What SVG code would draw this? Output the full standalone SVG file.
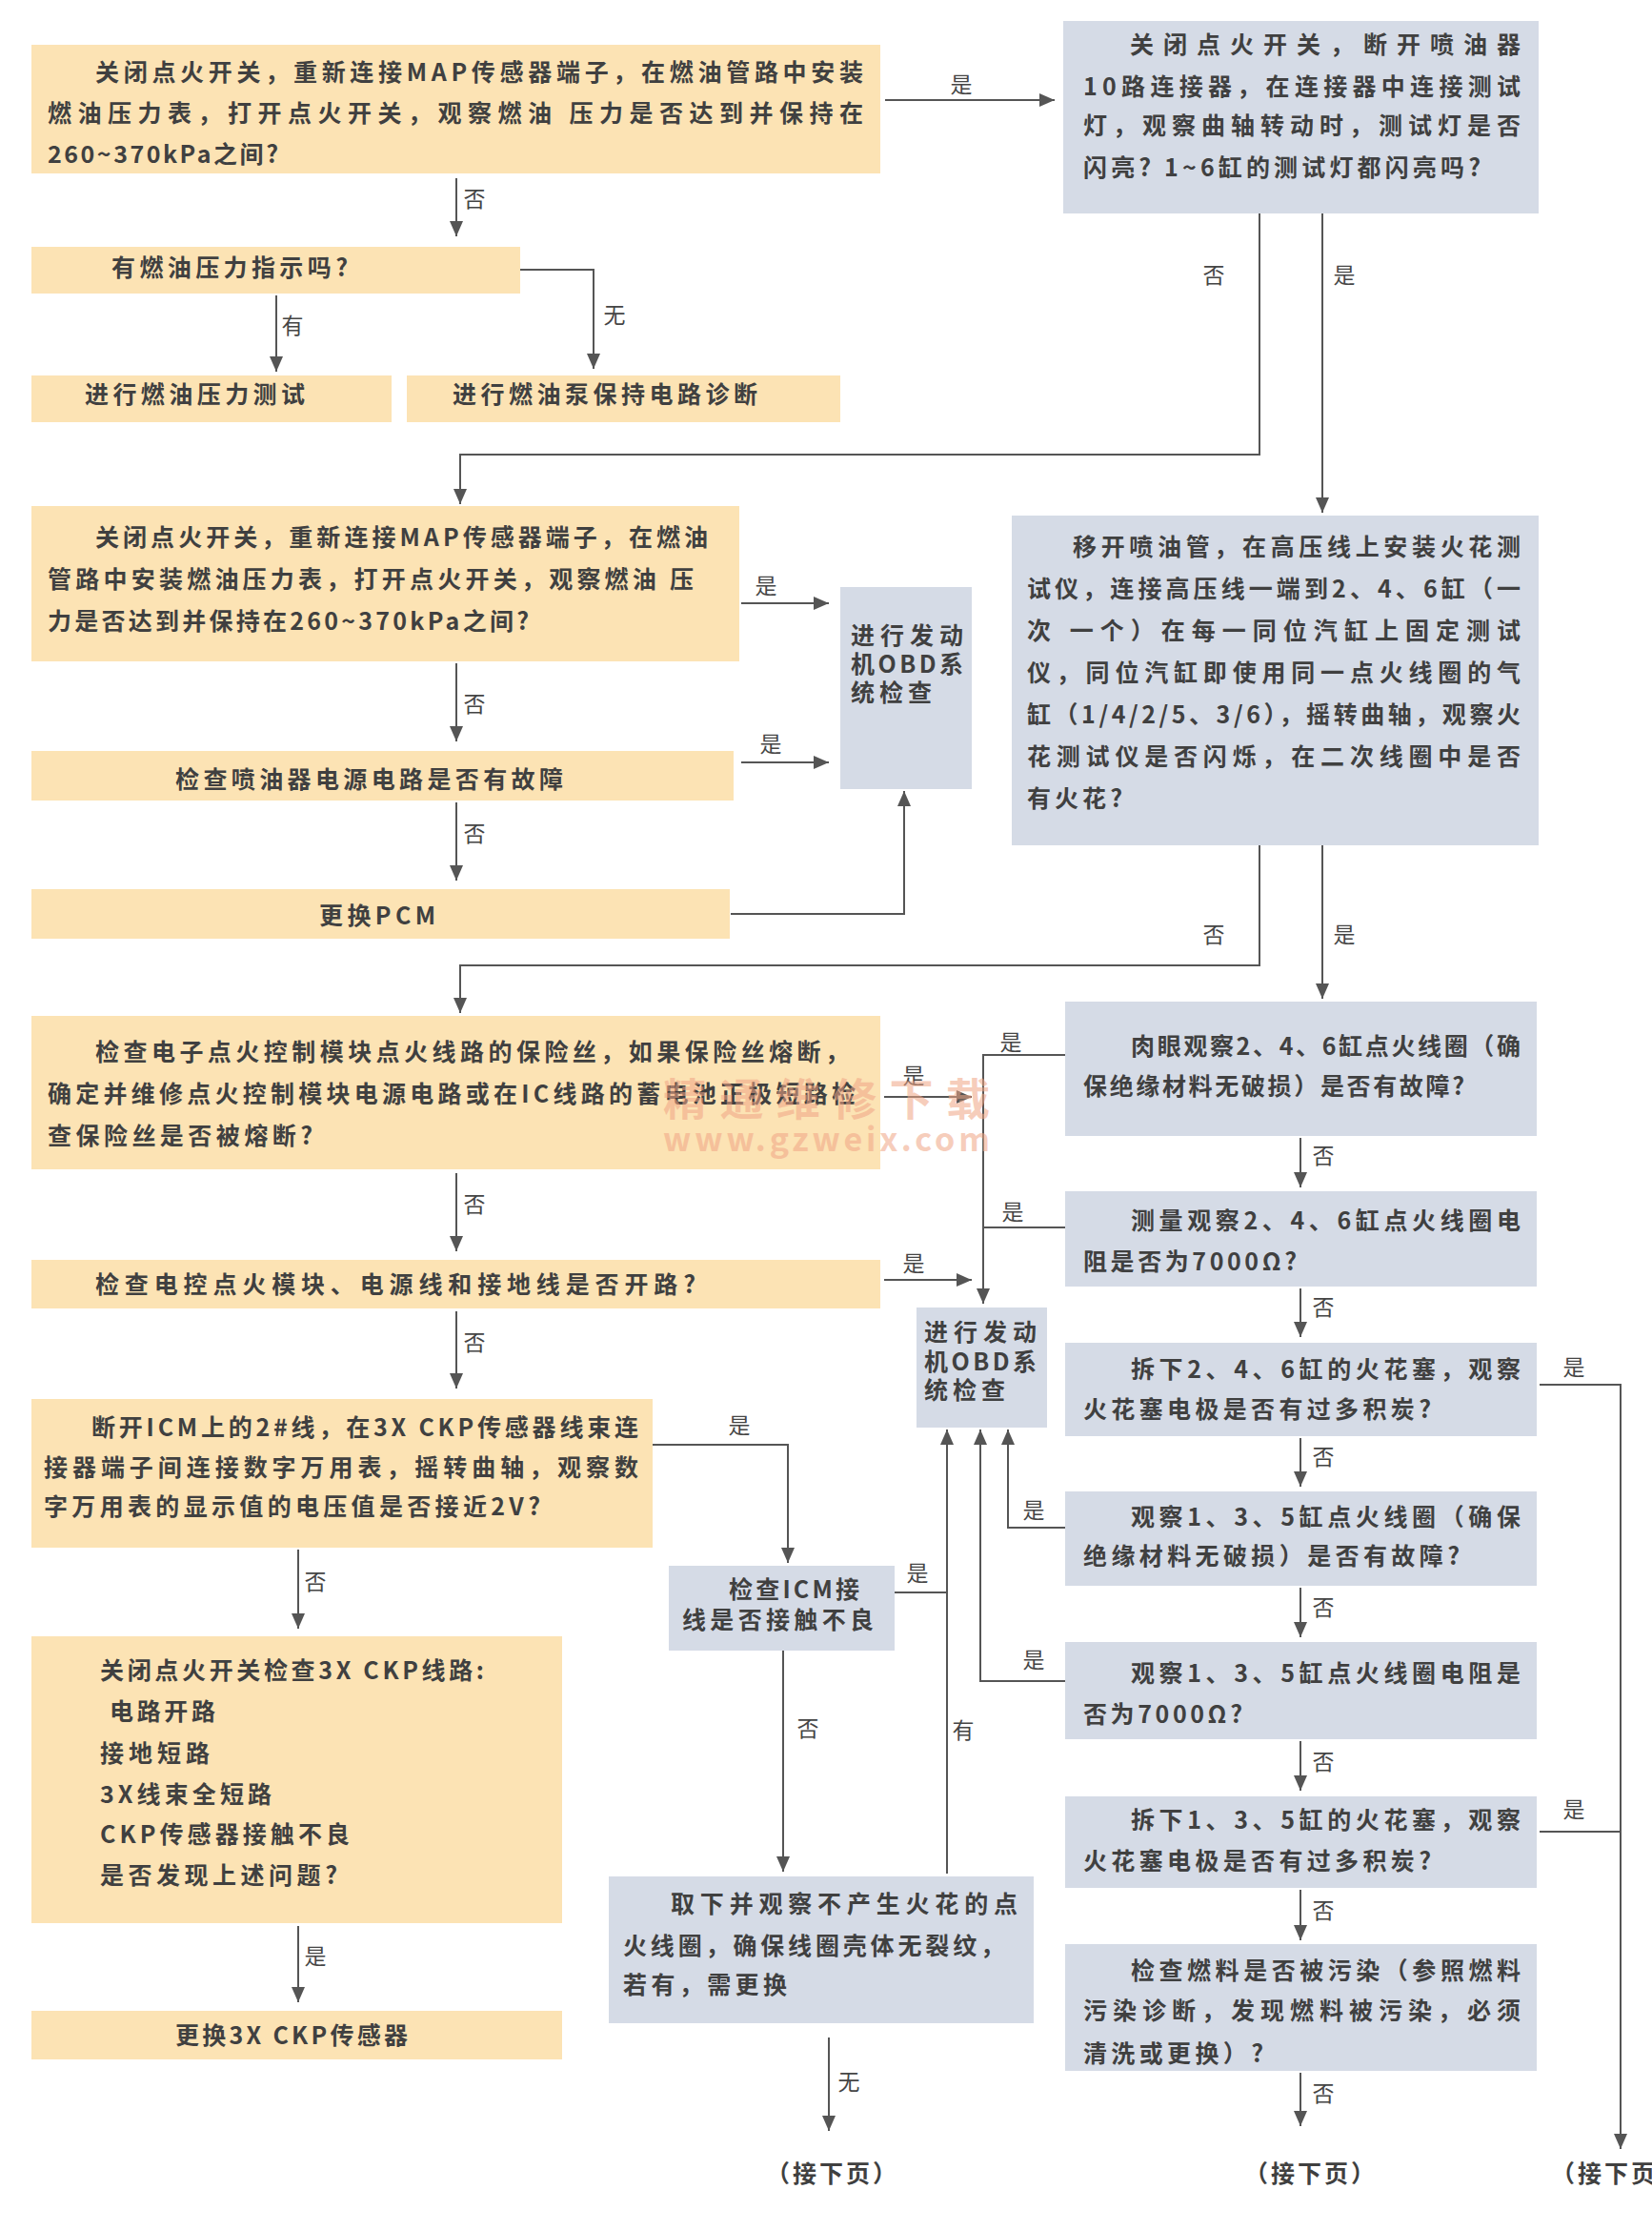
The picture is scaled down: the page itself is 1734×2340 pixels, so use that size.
<svg xmlns="http://www.w3.org/2000/svg" width="1734" height="2340" viewBox="0 0 1734 2340">
<defs>
<marker id="ah" markerWidth="16" markerHeight="16" viewBox="0 0 16 16" refX="16" refY="8" orient="auto" markerUnits="userSpaceOnUse"><path d="M0,1 L16,8 L0,15 z" fill="#555"/></marker>
</defs>
<style>
.o{fill:#fce3b4}
.b{fill:#d5dbe6}
.t{font-family:"Noto Sans CJK SC","Liberation Sans",sans-serif;font-size:25px;font-weight:700;fill:#404040}
.lb{font-family:"Noto Sans CJK SC","Liberation Sans",sans-serif;font-size:23px;fill:#454545;text-anchor:middle}
.c{fill:none;stroke:#555;stroke-width:2}
.a{marker-end:url(#ah)}
.wm{font-family:"Noto Sans CJK SC","Liberation Sans",sans-serif;font-weight:700;fill:#f0a585;opacity:0.55}
</style>
<rect width="1734" height="2340" fill="#ffffff"/>

<g id="n1"><rect class="o" x="33" y="47" width="891" height="135"/>
<text class="t" x="100" y="85" textLength="806" lengthAdjust="spacing">关闭点火开关，重新连接MAP传感器端子，在燃油管路中安装</text>
<text class="t" x="50" y="128" textLength="856" lengthAdjust="spacing">燃油压力表，打开点火开关，观察燃油 压力是否达到并保持在</text>
<text class="t" x="50" y="171" textLength="242" lengthAdjust="spacing">260~370kPa之间?</text></g>

<g id="n2"><rect class="b" x="1116" y="22" width="499" height="202"/>
<text class="t" x="1186" y="56" textLength="410" lengthAdjust="spacing">关闭点火开关，断开喷油器</text>
<text class="t" x="1137" y="100" textLength="459" lengthAdjust="spacing">10路连接器，在连接器中连接测试</text>
<text class="t" x="1137" y="141" textLength="459" lengthAdjust="spacing">灯，观察曲轴转动时，测试灯是否</text>
<text class="t" x="1137" y="185" textLength="417" lengthAdjust="spacing">闪亮? 1~6缸的测试灯都闪亮吗?</text></g>

<g id="n3"><rect class="o" x="33" y="259" width="513" height="49"/>
<text class="t" x="117" y="290" textLength="248" lengthAdjust="spacing">有燃油压力指示吗?</text></g>

<g id="n4"><rect class="o" x="33" y="394" width="378" height="49"/>
<text class="t" x="89" y="423" textLength="231" lengthAdjust="spacing">进行燃油压力测试</text></g>

<g id="n5"><rect class="o" x="427" y="394" width="455" height="49"/>
<text class="t" x="475" y="423" textLength="320" lengthAdjust="spacing">进行燃油泵保持电路诊断</text></g>

<g id="n6"><rect class="o" x="33" y="531" width="743" height="163"/>
<text class="t" x="100" y="573" textLength="643" lengthAdjust="spacing">关闭点火开关，重新连接MAP传感器端子，在燃油</text>
<text class="t" x="50" y="617" textLength="678" lengthAdjust="spacing">管路中安装燃油压力表，打开点火开关，观察燃油 压</text>
<text class="t" x="50" y="661" textLength="505" lengthAdjust="spacing">力是否达到并保持在260~370kPa之间?</text></g>

<g id="n7"><rect class="b" x="882" y="616" width="138" height="212"/>
<text class="t" x="893" y="676" textLength="118" lengthAdjust="spacing">进行发动</text>
<text class="t" x="893" y="706" textLength="118" lengthAdjust="spacing">机OBD系</text>
<text class="t" x="893" y="736" textLength="85" lengthAdjust="spacing">统检查</text></g>

<g id="n8"><rect class="o" x="33" y="788" width="737" height="52"/>
<text class="t" x="184" y="827" textLength="407" lengthAdjust="spacing">检查喷油器电源电路是否有故障</text></g>

<g id="n9"><rect class="o" x="33" y="933" width="733" height="52"/>
<text class="t" x="335" y="970" textLength="122" lengthAdjust="spacing">更换PCM</text></g>

<g id="n10"><rect class="b" x="1062" y="541" width="553" height="346"/>
<text class="t" x="1126" y="583" textLength="470" lengthAdjust="spacing">移开喷油管，在高压线上安装火花测</text>
<text class="t" x="1078" y="627" textLength="518" lengthAdjust="spacing">试仪，连接高压线一端到2、4、6缸（一</text>
<text class="t" x="1078" y="671" textLength="518" lengthAdjust="spacing">次 一个）在每一同位汽缸上固定测试</text>
<text class="t" x="1078" y="715" textLength="518" lengthAdjust="spacing">仪，同位汽缸即使用同一点火线圈的气</text>
<text class="t" x="1078" y="759" textLength="518" lengthAdjust="spacing">缸（1/4/2/5、3/6），摇转曲轴，观察火</text>
<text class="t" x="1078" y="803" textLength="518" lengthAdjust="spacing">花测试仪是否闪烁，在二次线圈中是否</text>
<text class="t" x="1078" y="847" textLength="100" lengthAdjust="spacing">有火花?</text></g>

<g id="n11"><rect class="o" x="33" y="1066" width="891" height="161"/>
<text class="t" x="100" y="1113" textLength="791" lengthAdjust="spacing">检查电子点火控制模块点火线路的保险丝，如果保险丝熔断，</text>
<text class="t" x="50" y="1157" textLength="848" lengthAdjust="spacing">确定并维修点火控制模块电源电路或在IC线路的蓄电池正极短路检</text>
<text class="t" x="50" y="1201" textLength="278" lengthAdjust="spacing">查保险丝是否被熔断?</text></g>

<g id="n12"><rect class="o" x="33" y="1322" width="891" height="51"/>
<text class="t" x="100" y="1357" textLength="630" lengthAdjust="spacing">检查电控点火模块、电源线和接地线是否开路?</text></g>

<g id="n13"><rect class="b" x="962" y="1372" width="137" height="126"/>
<text class="t" x="970" y="1407" textLength="118" lengthAdjust="spacing">进行发动</text>
<text class="t" x="970" y="1438" textLength="118" lengthAdjust="spacing">机OBD系</text>
<text class="t" x="970" y="1468" textLength="85" lengthAdjust="spacing">统检查</text></g>

<g id="n14"><rect class="o" x="33" y="1468" width="652" height="156"/>
<text class="t" x="96" y="1507" textLength="574" lengthAdjust="spacing">断开ICM上的2#线，在3X CKP传感器线束连</text>
<text class="t" x="46" y="1549" textLength="624" lengthAdjust="spacing">接器端子间连接数字万用表，摇转曲轴，观察数</text>
<text class="t" x="46" y="1590" textLength="521" lengthAdjust="spacing">字万用表的显示值的电压值是否接近2V?</text></g>

<g id="n15"><rect class="b" x="702" y="1643" width="237" height="89"/>
<text class="t" x="765" y="1677" textLength="137" lengthAdjust="spacing">检查ICM接</text>
<text class="t" x="716" y="1709" textLength="201" lengthAdjust="spacing">线是否接触不良</text></g>

<g id="n16"><rect class="o" x="33" y="1717" width="557" height="301"/>
<text class="t" x="105" y="1762" textLength="403" lengthAdjust="spacing">关闭点火开关检查3X CKP线路:</text>
<text class="t" x="115" y="1805" textLength="111" lengthAdjust="spacing">电路开路</text>
<text class="t" x="105" y="1849" textLength="115" lengthAdjust="spacing">接地短路</text>
<text class="t" x="105" y="1892" textLength="180" lengthAdjust="spacing">3X线束全短路</text>
<text class="t" x="105" y="1934" textLength="262" lengthAdjust="spacing">CKP传感器接触不良</text>
<text class="t" x="105" y="1977" textLength="249" lengthAdjust="spacing">是否发现上述问题?</text></g>

<g id="n17"><rect class="o" x="33" y="2110" width="557" height="51"/>
<text class="t" x="184" y="2145" textLength="244" lengthAdjust="spacing">更换3X CKP传感器</text></g>

<g id="n18"><rect class="b" x="639" y="1969" width="446" height="154"/>
<text class="t" x="704" y="2007" textLength="364" lengthAdjust="spacing">取下并观察不产生火花的点</text>
<text class="t" x="654" y="2051" textLength="400" lengthAdjust="spacing">火线圈，确保线圈壳体无裂纹，</text>
<text class="t" x="654" y="2092" textLength="172" lengthAdjust="spacing">若有，需更换</text></g>

<g id="n19"><rect class="b" x="1118" y="1051" width="495" height="141"/>
<text class="t" x="1187" y="1107" textLength="409" lengthAdjust="spacing">肉眼观察2、4、6缸点火线圈（确</text>
<text class="t" x="1137" y="1149" textLength="400" lengthAdjust="spacing">保绝缘材料无破损）是否有故障?</text></g>

<g id="n20"><rect class="b" x="1118" y="1250" width="495" height="100"/>
<text class="t" x="1187" y="1290" textLength="409" lengthAdjust="spacing">测量观察2、4、6缸点火线圈电</text>
<text class="t" x="1137" y="1333" textLength="224" lengthAdjust="spacing">阻是否为7000Ω?</text></g>

<g id="n21"><rect class="b" x="1118" y="1409" width="495" height="98"/>
<text class="t" x="1187" y="1446" textLength="409" lengthAdjust="spacing">拆下2、4、6缸的火花塞，观察</text>
<text class="t" x="1137" y="1488" textLength="365" lengthAdjust="spacing">火花塞电极是否有过多积炭?</text></g>

<g id="n22"><rect class="b" x="1118" y="1565" width="495" height="99"/>
<text class="t" x="1187" y="1601" textLength="409" lengthAdjust="spacing">观察1、3、5缸点火线圈（确保</text>
<text class="t" x="1137" y="1642" textLength="395" lengthAdjust="spacing">绝缘材料无破损）是否有故障?</text></g>

<g id="n23"><rect class="b" x="1118" y="1723" width="495" height="102"/>
<text class="t" x="1187" y="1765" textLength="409" lengthAdjust="spacing">观察1、3、5缸点火线圈电阻是</text>
<text class="t" x="1137" y="1808" textLength="167" lengthAdjust="spacing">否为7000Ω?</text></g>

<g id="n24"><rect class="b" x="1118" y="1885" width="495" height="96"/>
<text class="t" x="1187" y="1919" textLength="409" lengthAdjust="spacing">拆下1、3、5缸的火花塞，观察</text>
<text class="t" x="1137" y="1962" textLength="365" lengthAdjust="spacing">火花塞电极是否有过多积炭?</text></g>

<g id="n25"><rect class="b" x="1118" y="2040" width="495" height="133"/>
<text class="t" x="1187" y="2077" textLength="409" lengthAdjust="spacing">检查燃料是否被污染（参照燃料</text>
<text class="t" x="1137" y="2119" textLength="459" lengthAdjust="spacing">污染诊断，发现燃料被污染，必须</text>
<text class="t" x="1137" y="2164" textLength="189" lengthAdjust="spacing">清洗或更换）?</text></g>

<g id="n26"><text class="t" x="874" y="2290" text-anchor="middle" style="letter-spacing:3px">（接下页）</text></g>
<g id="n27"><text class="t" x="1376" y="2290" text-anchor="middle" style="letter-spacing:3px">（接下页）</text></g>
<g id="n28"><text class="t" x="1628" y="2290" style="letter-spacing:3px">（接下页</text></g>

<g id="connectors">
<path class="c a" d="M929,105 H1107"/>
<path class="c a" d="M479,187 V248"/>
<path class="c a" d="M546,283 H623 V387"/>
<path class="c a" d="M290,310 V390"/>
<path class="c a" d="M1322,224 V477 H483 V529"/>
<path class="c a" d="M1388,224 V538"/>
<path class="c a" d="M778,633 H870"/>
<path class="c a" d="M479,696 V778"/>
<path class="c a" d="M778,800 H870"/>
<path class="c a" d="M479,842 V924"/>
<path class="c a" d="M767,959 H949 V830"/>
<path class="c a" d="M1322,887 V1013 H483 V1063"/>
<path class="c a" d="M1388,887 V1048"/>
<path class="c a" d="M928,1151 H1020"/>
<path class="c a" d="M1118,1107 H1032 V1368"/>
<path class="c" d="M1118,1288 H1032"/>
<path class="c a" d="M928,1343 H1020"/>
<path class="c a" d="M479,1231 V1313"/>
<path class="c a" d="M479,1376 V1457"/>
<path class="c a" d="M685,1516 H827 V1640"/>
<path class="c" d="M939,1671 H994"/>
<path class="c a" d="M994,1966 V1500"/>
<path class="c a" d="M1118,1764 H1029 V1500"/>
<path class="c a" d="M1118,1603 H1058 V1500"/>
<path class="c a" d="M822,1732 V1964"/>
<path class="c a" d="M870,2138 V2236"/>
<path class="c a" d="M313,1626 V1709"/>
<path class="c a" d="M313,2021 V2101"/>
<path class="c a" d="M1365,1194 V1246"/>
<path class="c a" d="M1365,1352 V1403"/>
<path class="c a" d="M1365,1509 V1560"/>
<path class="c a" d="M1365,1666 V1718"/>
<path class="c a" d="M1365,1827 V1879"/>
<path class="c a" d="M1365,1983 V2036"/>
<path class="c a" d="M1365,2175 V2231"/>
<path class="c a" d="M1616,1453 H1701 V2255"/>
<path class="c" d="M1616,1922 H1701"/>
<g>
<text class="lb" x="1009" y="97">是</text>
<text class="lb" x="498" y="217">否</text>
<text class="lb" x="645" y="339">无</text>
<text class="lb" x="307" y="350">有</text>
<text class="lb" x="1274" y="297">否</text>
<text class="lb" x="1411" y="297">是</text>
<text class="lb" x="804" y="623">是</text>
<text class="lb" x="498" y="747">否</text>
<text class="lb" x="809" y="789">是</text>
<text class="lb" x="498" y="883">否</text>
<text class="lb" x="1274" y="989">否</text>
<text class="lb" x="1411" y="989">是</text>
<text class="lb" x="959" y="1137">是</text>
<text class="lb" x="1061" y="1102">是</text>
<text class="lb" x="1063" y="1280">是</text>
<text class="lb" x="959" y="1334">是</text>
<text class="lb" x="498" y="1272">否</text>
<text class="lb" x="498" y="1417">否</text>
<text class="lb" x="776" y="1504">是</text>
<text class="lb" x="963" y="1659">是</text>
<text class="lb" x="1011" y="1824">有</text>
<text class="lb" x="1085" y="1750">是</text>
<text class="lb" x="1085" y="1593">是</text>
<text class="lb" x="848" y="1822">否</text>
<text class="lb" x="891" y="2193">无</text>
<text class="lb" x="331" y="1668">否</text>
<text class="lb" x="331" y="2061">是</text>
<text class="lb" x="1389" y="1221">否</text>
<text class="lb" x="1389" y="1380">否</text>
<text class="lb" x="1389" y="1537">否</text>
<text class="lb" x="1389" y="1695">否</text>
<text class="lb" x="1389" y="1857">否</text>
<text class="lb" x="1389" y="2013">否</text>
<text class="lb" x="1389" y="2205">否</text>
<text class="lb" x="1652" y="1443">是</text>
<text class="lb" x="1652" y="1907">是</text>
</g>
</g>

<g id="watermark">
<text class="wm" x="696" y="1170" font-size="46" textLength="343" lengthAdjust="spacing">精通维修下载</text>
<text class="wm" x="696" y="1208" font-size="34" textLength="343" lengthAdjust="spacing">www.gzweix.com</text>
</g>
</svg>
